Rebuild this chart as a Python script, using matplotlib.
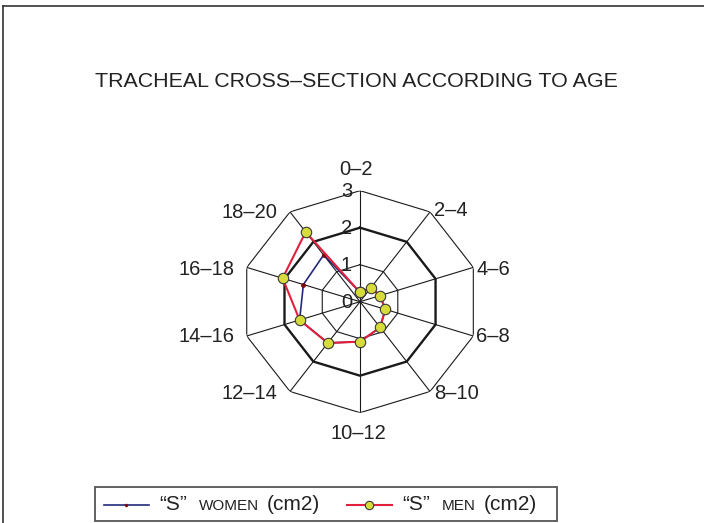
import numpy as np
import matplotlib
matplotlib.use('Agg')
import matplotlib.pyplot as plt
from matplotlib.lines import Line2D
from matplotlib.offsetbox import TextArea, DrawingArea, HPacker, AnchoredOffsetbox

plt.rcParams['font.family'] = ['Liberation Sans', 'DejaVu Sans']

# ---------------- data ----------------
title = "TRACHEAL CROSS–SECTION ACCORDING TO AGE"
age_groups = ["0–2", "2–4", "4–6", "6–8", "8–10", "10–12", "12–14", "14–16", "16–18", "18–20"]
women_s = [0.25, 0.47, 0.53, 0.67, 0.86, 1.08, 1.38, 1.60, 1.50, 1.56]
men_s = [0.25, 0.47, 0.53, 0.67, 0.86, 1.08, 1.38, 1.60, 2.05, 2.33]
r_ticks = [0, 1, 2, 3]
series_prefix = "“S”"
series_names = ["WOMEN", "MEN"]
unit_label = "(cm2)"

# ---------------- styles ----------------
GRID = '#1a1a1a'
TXT = '#222222'
RED = '#e3203c'
NAVY = '#232a7c'
DARKRED = '#7a0a0a'
YELLOW = '#d8dc3a'

fig = plt.figure(figsize=(7.04, 5.23), dpi=100)

ax = fig.add_axes([0.3422, 0.2109, 0.3384, 0.4245], projection='polar')
ax.set_theta_zero_location('N')
ax.set_theta_direction(-1)
ax.set_ylim(0, r_ticks[-1])
ax.set_aspect('auto')
ax.axis('off')

n = len(age_groups)
theta = np.arange(n) * 2 * np.pi / n
theta_c = np.append(theta, theta[0])

# polygon grid
for rv in r_ticks[1:]:
    ax.plot(theta_c, [rv] * (n + 1), color=GRID, lw=1.7 if rv == 2 else 0.8,
            zorder=1, solid_joinstyle='miter')
for t in theta:
    ax.plot([t, t], [0, r_ticks[-1]], color=GRID, lw=0.8, zorder=1)

# series
w = np.append(women_s, women_s[0])
m = np.append(men_s, men_s[0])
ax.plot(theta_c, w, color=NAVY, lw=1.2, marker='o', ms=2.5, mfc=DARKRED,
        mec=DARKRED, zorder=3)
ax.plot(theta_c, m, color=RED, lw=1.5, marker='o', ms=7.5, mfc=YELLOW,
        mec='#3a3a3a', mew=0.8, zorder=4)

# radial labels
for rv in r_ticks:
    ax.annotate(str(rv), xy=(0, rv), xytext=(-8, -1), textcoords='offset pixels',
                ha='right', va='center', fontsize=14.5, color=TXT, zorder=5)

# category labels (layout offsets in pixels)
label_layout = [(-4, 15.4, 'center'), (4, -4.4, 'left'), (2.7, -7.3, 'left'),
                (2.7, -6, 'left'), (4, -7.2, 'left'), (-1.7, -26, 'center'),
                (-12.3, -7.2, 'right'), (-12.7, -6, 'right'), (-12.7, -7.3, 'right'),
                (-12.3, -6.1, 'right')]
for lab, t, (dx, dy, ha) in zip(age_groups, theta, label_layout):
    ax.annotate(lab, xy=(t, r_ticks[-1]), xytext=(dx, dy), textcoords='offset pixels',
                ha=ha, va='baseline', fontsize=14.5, color=TXT)

# title
fig.text(356.7 / 704, 1 - 86.7 / 523, title, ha='center', va='baseline',
         fontsize=15.4, color=TXT)

# figure frame (left and top)
fig.add_artist(Line2D([3 / 704, 3 / 704], [0, 1 - 6.3 / 523], transform=fig.transFigure,
                      color='#333', lw=1.2))
fig.add_artist(Line2D([3 / 704, 1], [1 - 6.3 / 523, 1 - 6.3 / 523], transform=fig.transFigure,
                      color='#333', lw=1.2))

# legend
def make_handle(color, lw, mfc, mec, ms, mew):
    da = DrawingArea(33.2, 7.2, 0, 0)
    da.add_artist(Line2D([0.9, 33.2], [3.6, 3.6], color=color, lw=lw))
    da.add_artist(Line2D([17.0], [3.6], marker='o', ms=ms, mfc=mfc, mec=mec, mew=mew,
                         ls='none'))
    return da

def make_entry(handle, name):
    tail = HPacker(children=[TextArea(name, textprops=dict(size=11, color=TXT)),
                             TextArea(unit_label, textprops=dict(size=15, color=TXT))],
                   sep=5.5, align='baseline', pad=0)
    txt = HPacker(children=[TextArea(series_prefix, textprops=dict(size=15, color=TXT)), tail],
                  sep=8.6, align='baseline', pad=0)
    return HPacker(children=[handle, txt], sep=7.5, align='baseline', pad=0)

e_w = make_entry(make_handle(NAVY, 1.2, DARKRED, DARKRED, 2.5, 0), series_names[0])
e_m = make_entry(make_handle(RED, 1.5, YELLOW, '#3a3a3a', 6, 0.8), series_names[1])
row = HPacker(children=[e_w, e_m], sep=18.7, align='baseline', pad=0)
row2 = HPacker(children=[row, DrawingArea(9.0, 1, 0, 0)], sep=0, align='baseline', pad=0)
leg = AnchoredOffsetbox(loc='upper left', child=row2, pad=0.54, borderpad=0,
                        frameon=True, prop=dict(size=10),
                        bbox_to_anchor=(95 / 704, 1 - 487.3 / 523),
                        bbox_transform=fig.transFigure)
leg.patch.set_edgecolor('#555')
leg.patch.set_linewidth(1.3)
fig.add_artist(leg)

fig.savefig('out.png', dpi=100)
